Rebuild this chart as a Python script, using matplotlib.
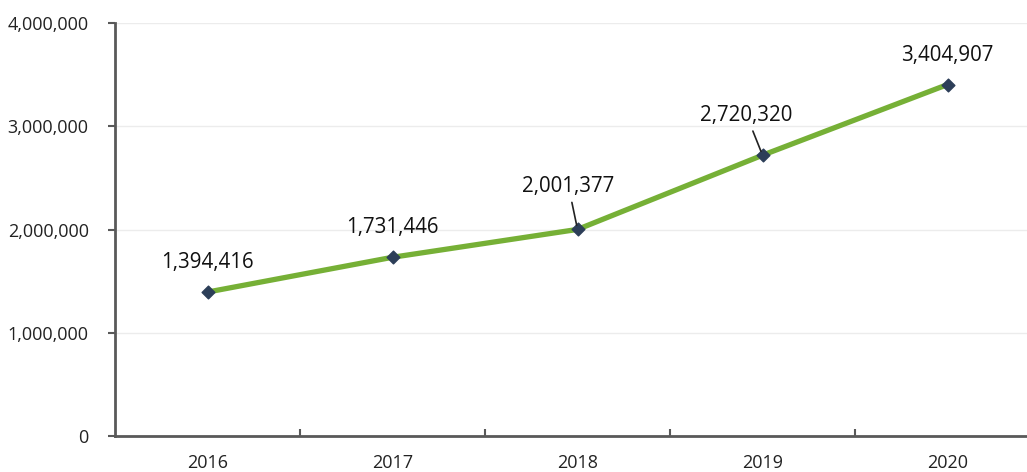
import matplotlib.pyplot as plt
from matplotlib.ticker import FuncFormatter

plt.rcParams['font.family'] = ['Open Sans', 'DejaVu Sans']

years = ['2016', '2017', '2018', '2019', '2020']
values = [1394416, 1731446, 2001377, 2720320, 3404907]

# label offsets in pixels (dx, dy) from each point; leader line for the crowded ones
label_offsets = [(0, 30), (0, 30), (-9, 43), (-16, 40), (0, 29)]
leaders = [False, False, True, True, False]

fig = plt.figure(figsize=(10.27, 4.72), dpi=100)
ax = fig.add_axes([0.112, 0.0763, 0.9007, 0.8747])

x = range(len(years))
ax.plot(x, values, color='#76b036', linewidth=3.8, zorder=3)
ax.scatter(x, values, marker='D', s=42, color='#2c3e58', zorder=4)

for i, v in enumerate(values):
    dx, dy = label_offsets[i]
    props = None
    if leaders[i]:
        props = dict(arrowstyle='-', color='#222222', lw=1.2, shrinkA=2, shrinkB=3)
    ax.annotate(f'{v:,}', (i, v), xytext=(dx, dy), textcoords='offset pixels',
                ha='center', va='center', fontsize=14.8, color='#111111',
                arrowprops=props, zorder=5)

ax.set_xlim(-0.5, 4.5)
ax.set_ylim(0, 4000000)
ax.set_yticks([0, 1000000, 2000000, 3000000, 4000000])
ax.yaxis.set_major_formatter(FuncFormatter(lambda v, p: f'{int(v):,}'))
ax.grid(axis='y', color='#ececec', linewidth=1)
ax.set_axisbelow(True)

# category boundaries get the tick marks, centres get the labels
ax.set_xticks([0.5, 1.5, 2.5, 3.5])
ax.set_xticklabels([])
ax.set_xticks(list(x), minor=True)
ax.set_xticklabels(years, minor=True)
ax.tick_params(axis='x', which='major', direction='in', length=5, width=1.5, color='#595959')
ax.tick_params(axis='x', which='minor', length=0, pad=13, labelsize=13, labelcolor='#222222')
ax.tick_params(axis='y', direction='out', length=5, width=1.5, color='#595959',
               pad=14, labelsize=13, labelcolor='#222222')

for side in ['top', 'right']:
    ax.spines[side].set_visible(False)
for side in ['left', 'bottom']:
    ax.spines[side].set_color('#595959')
    ax.spines[side].set_linewidth(2)

fig.savefig('out.png', dpi=100)
